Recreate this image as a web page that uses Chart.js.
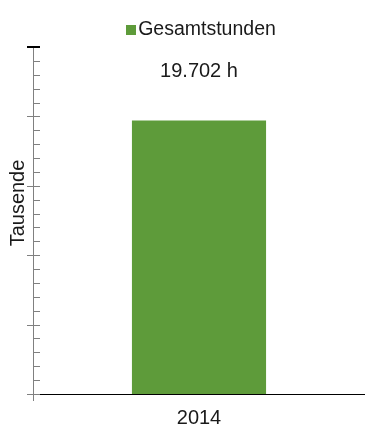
<!DOCTYPE html>
<html lang="de">
<head>
<meta charset="utf-8">
<title>Gesamtstunden 2014</title>
<script src="https://cdn.jsdelivr.net/npm/chart.js@4/dist/chart.umd.min.js"></script>
<style>
  html, body { margin: 0; padding: 0; background: #ffffff; }
  #wrap { width: 365px; height: 426px; }
</style>
</head>
<body>
<div id="wrap"><canvas id="chart" width="365" height="426"></canvas></div>
<script>
// Jahre und Gesamtstunden (in Tausend Stunden)
const categories = ['2014'];
const hoursThousands = [19.702];
const seriesLabel = 'Gesamtstunden';
const axisTitle = 'Tausende';

// Achsenbereich: Haupt- und Hilfsstriche
const yMin = 0;
const yMax = 25;
const majorStep = 5;
const minorStep = 1;

const FONT = "'Liberation Sans', Arial, Helvetica, sans-serif";
const TEXT = '#1a1a1a';
const GREEN = '#5e9b3a';
const AXIS_GREY = '#808080';

Chart.defaults.font.family = FONT;
Chart.defaults.color = TEXT;

// 19.702 -> "19.702 h"
function formatHours(v) {
  const n = Math.round(v * 1000);
  return n.toString().replace(/\B(?=(\d{3})+(?!\d))/g, '.') + ' h';
}

// Striche an der y-Achse: Hauptstriche kreuzen die Achse, Hilfsstriche nur innen
const yTickMarks = {
  id: 'yTickMarks',
  afterDraw(chart) {
    const scale = chart.scales.y;
    const ctx = chart.ctx;
    const x = chart.chartArea.left;
    ctx.save();
    scale.ticks.forEach(t => {
      const y = Math.round(scale.getPixelForValue(t.value));
      const major = t.value % majorStep === 0;
      const top = t.value === yMax;
      ctx.beginPath();
      ctx.strokeStyle = top ? '#000000' : AXIS_GREY;
      ctx.lineWidth = top ? 2 : 1;
      const yy = top ? y : y + 0.5;
      ctx.moveTo(major ? x - 6 : x, yy);
      ctx.lineTo(x + 7, yy);
      ctx.stroke();
    });
    ctx.restore();
  }
};

// Wertbeschriftung über den Balken
const valueLabels = {
  id: 'valueLabels',
  afterDatasetsDraw(chart) {
    const ctx = chart.ctx;
    const meta = chart.getDatasetMeta(0);
    const values = chart.data.datasets[0].data;
    ctx.save();
    ctx.font = '20px ' + FONT;
    ctx.fillStyle = TEXT;
    ctx.textAlign = 'center';
    ctx.textBaseline = 'middle';
    meta.data.forEach((bar, i) => {
      ctx.fillText(formatHours(values[i]), bar.x, bar.y - 49);
    });
    ctx.restore();
  }
};

// Legende über der Zeichenfläche und Titel der y-Achse
const legendAndTitle = {
  id: 'legendAndTitle',
  afterDraw(chart) {
    const ctx = chart.ctx;
    const area = chart.chartArea;
    const ds = chart.data.datasets[0];
    ctx.save();
    ctx.font = '19.5px ' + FONT;
    const tw = ctx.measureText(ds.label).width;
    const box = 10, gap = 2;
    const cx = (area.left + area.right) / 2 + 2;
    const x0 = cx - (box + gap + tw) / 2;
    ctx.fillStyle = ds.backgroundColor;
    ctx.fillRect(Math.round(x0), 25, box, box);
    ctx.fillStyle = TEXT;
    ctx.textAlign = 'left';
    ctx.textBaseline = 'middle';
    ctx.fillText(ds.label, x0 + box + gap, 30);

    ctx.font = '20px ' + FONT;
    ctx.translate(18, 203);
    ctx.rotate(-Math.PI / 2);
    ctx.textAlign = 'center';
    ctx.fillText(axisTitle, 0, 0);
    ctx.restore();
  }
};

new Chart(document.getElementById('chart'), {
  type: 'bar',
  data: {
    labels: categories,
    datasets: [{
      label: seriesLabel,
      data: hoursThousands,
      backgroundColor: GREEN,
      borderWidth: 0,
      categoryPercentage: 1,
      barPercentage: 0.404
    }]
  },
  options: {
    responsive: false,
    animation: false,
    layout: { padding: { top: 47, left: 0, right: 0, bottom: 0 } },
    plugins: {
      legend: { display: false },
      tooltip: { enabled: false },
      title: { display: false }
    },
    scales: {
      x: {
        offset: true,
        grid: {
          display: true,
          offset: true,
          drawOnChartArea: false,
          drawTicks: true,
          tickLength: 7,
          tickColor: c => (c.index === 0 ? AXIS_GREY : 'rgba(0,0,0,0)'),
          color: 'rgba(0,0,0,0)'
        },
        border: { display: true, color: '#000000', width: 1 },
        ticks: { font: { size: 20 }, color: TEXT, padding: 5 },
        afterFit(scale) { scale.height = 32; }
      },
      y: {
        min: yMin,
        max: yMax,
        grid: { display: false },
        border: { display: true, color: AXIS_GREY, width: 1 },
        ticks: { display: false, stepSize: minorStep },
        afterFit(scale) { scale.width = 33; }
      }
    }
  },
  plugins: [yTickMarks, valueLabels, legendAndTitle]
});
</script>
</body>
</html>
